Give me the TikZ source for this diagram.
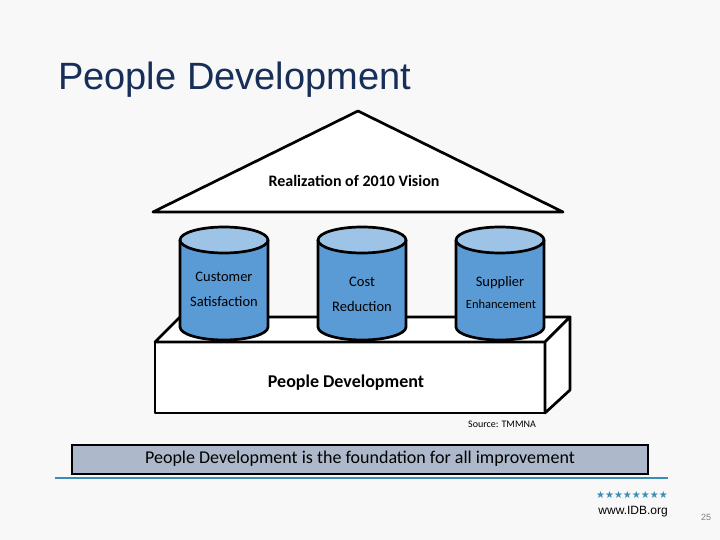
\documentclass[tikz,border=0pt]{standalone}
\usepackage{fontspec}
\setmainfont{Carlito}
\newfontfamily\arialfont{Liberation Sans}
\newfontfamily\symfont{DejaVu Sans}
\definecolor{titleblue}{HTML}{172F58}
\definecolor{pillarbody}{HTML}{5B9BD5}
\definecolor{pillartop}{HTML}{9DC3E6}
\definecolor{bannerfill}{HTML}{ADB9CA}
\definecolor{rulecolor}{HTML}{3A8DB5}
\definecolor{pagebg}{HTML}{F8F8F8}

\begin{document}
\begin{tikzpicture}[x=1pt,y=-1pt]
    \tikzstyle{outline}=[line width=2.7pt,line join=round]
    \tikzstyle{pillartext}=[inner sep=0pt,anchor=base,font=\fontsize{14.5}{17}\selectfont]
    \tikzstyle{boldtext}=[inner sep=0pt,anchor=base,font=\bfseries\fontsize{16}{18}\selectfont]
    \fill[pagebg] (0,0) rectangle (720,540);
    \useasboundingbox (0,0) rectangle (720,540);
    % title
    \node[inner sep=0pt,anchor=base west,text=titleblue] (title) at (58,90)
      {\arialfont\fontsize{38}{42}\selectfont People Development};
    % roof
    \draw[outline,fill=white] (153,212) -- (358,111) -- (563,212) -- cycle;
    \node[boldtext] (vision) at (354,187) {Realization of 2010 Vision};
    % foundation block
    \draw[outline,fill=white] (155,342) rectangle (545,413);
    \draw[outline,fill=white] (155,342) -- (180,317) -- (570,317) -- (545,342) -- cycle;
    \draw[outline,fill=white] (545,342) -- (570,317) -- (570,390) -- (545,413) -- cycle;
    \node[boldtext,font=\bfseries\fontsize{18}{20}\selectfont] (base) at (346,387) {People Development};
    % pillars
    \foreach \cx/\name in {224/customer,362/cost,500/supplier}{
      \draw[outline,fill=pillarbody] (\cx-44,240) -- (\cx-44,327)
        arc[start angle=180,end angle=0,x radius=44,y radius=13] -- (\cx+44,240);
      \draw[outline,fill=pillartop] (\cx,240) ellipse (44 and 13);
    }
    \node[pillartext] (customer1) at (224,281) {Customer};
    \node[pillartext] (customer2) at (224,306) {Satisfaction};
    \node[pillartext] (cost1) at (362,286) {Cost};
    \node[pillartext] (cost2) at (362,311) {Reduction};
    \node[pillartext] (supplier1) at (500,286) {Supplier};
    \node[pillartext,font=\fontsize{12.5}{14}\selectfont] (supplier2) at (501,308) {Enhancement};
    \node[inner sep=0pt,anchor=base east,font=\fontsize{10}{12}\selectfont] (source) at (536,427) {Source: TMMNA};
    % banner
    \node[draw,line width=2pt,fill=bannerfill,minimum width=576pt,minimum height=29pt,inner sep=0pt,
      font=\fontsize{18}{21}\selectfont] (banner) at (360,459) {People Development is the foundation for all improvement};
    \coordinate (ruleL) at (55,478);
    \coordinate (ruleR) at (668,478);
    \draw[rulecolor,line width=1.5pt] (ruleL) -- (ruleR);
    % footer
    \node[inner sep=0pt,anchor=base east,text=rulecolor] (stars) at (668,498)
      {\symfont\fontsize{10}{12}\selectfont ★★★★★★★★};
    \node[inner sep=0pt,anchor=base east] (web) at (668,514)
      {\arialfont\fontsize{12}{14}\selectfont www.IDB.org};
    \node[inner sep=0pt,anchor=base,text=gray] (page) at (706,520)
      {\arialfont\fontsize{9}{11}\selectfont 25};
\end{tikzpicture}
\end{document}
